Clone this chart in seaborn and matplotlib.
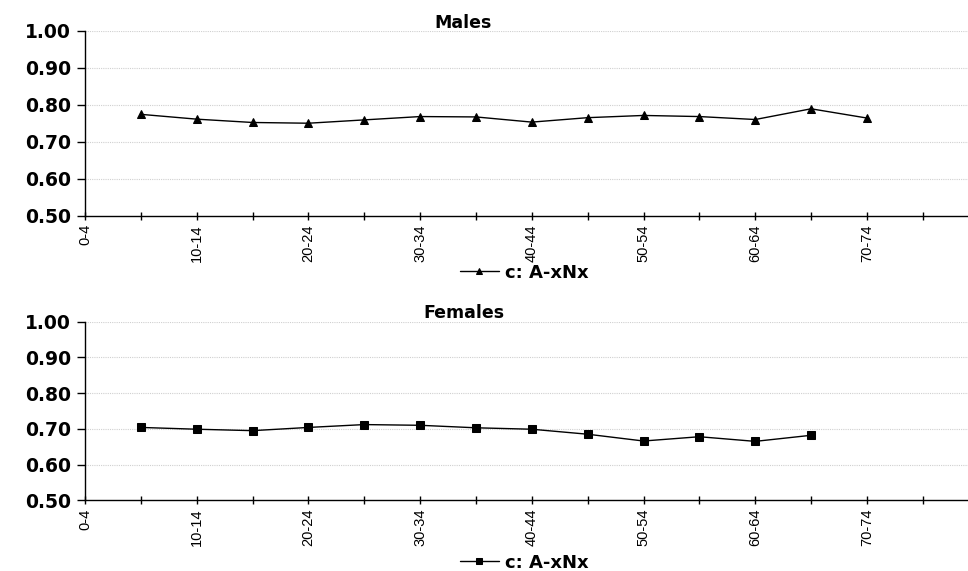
import seaborn as sns
import matplotlib.pyplot as plt
import matplotlib.ticker as mticker
import pandas as pd
import numpy as np

# age groups on the x axis (16 groups shown)
age_groups = ['0-4', '5-9', '10-14', '15-19', '20-24', '25-29', '30-34', '35-39',
              '40-44', '45-49', '50-54', '55-59', '60-64', '65-69', '70-74', '75-79']

# c: A-xNx ratios
males_ages = age_groups[1:15]
males_ratio = [0.774, 0.761, 0.752, 0.750, 0.759, 0.768, 0.767,
               0.753, 0.765, 0.771, 0.768, 0.760, 0.789, 0.764]

females_ages = age_groups[1:14]
females_ratio = [0.704, 0.699, 0.695, 0.704, 0.712, 0.710, 0.703,
                 0.699, 0.685, 0.666, 0.678, 0.665, 0.682]

series_label = 'c: A-xNx'

sns.set_theme(style='white')
plt.rcParams['font.family'] = ['DejaVu Sans']
plt.rcParams['text.color'] = 'black'
plt.rcParams['xtick.color'] = 'black'
plt.rcParams['ytick.color'] = 'black'

fig = plt.figure(figsize=(9.68, 5.71), dpi=100)
ax_m = fig.add_axes([0.0878, 0.6222, 0.9122, 0.324])
ax_f = fig.add_axes([0.0878, 0.1238, 0.9122, 0.3128])

panels = [
    (ax_m, males_ages, males_ratio, '^', 'Males', 1 - 22.5 / 571, 1 - 272.7 / 571),
    (ax_f, females_ages, females_ratio, 's', 'Females', 1 - 312.5 / 571, 1 - 562.7 / 571),
]

for ax, ages, vals, mk, title, ty, ly in panels:
    df = pd.DataFrame({'x': [age_groups.index(a) for a in ages], 'y': vals})
    sns.lineplot(data=df, x='x', y='y', ax=ax, color='black', linewidth=1,
                 marker=mk, markersize=5.5, markeredgecolor='black',
                 markerfacecolor='black', label=series_label)

    ax.set_xlim(0, 15.81)
    ax.set_ylim(0.5, 1.0)
    ax.set_xticks(range(len(age_groups)))
    ax.set_xticklabels([a if i % 2 == 0 else '' for i, a in enumerate(age_groups)],
                       rotation=90, fontsize=10.5, family='Liberation Sans')
    ax.set_yticks(np.arange(0.5, 1.01, 0.1))
    ax.yaxis.set_major_formatter(mticker.FormatStrFormatter('%.2f'))
    for t in ax.get_yticklabels():
        t.set_fontsize(13.5)
        t.set_fontweight('bold')
    ax.tick_params(axis='y', direction='out', length=6, width=1, color='black',
                   left=True, pad=4)
    ax.tick_params(axis='x', direction='inout', length=6, width=1, color='black',
                   bottom=True, pad=3)
    ax.set_xlabel('')
    ax.set_ylabel('')

    # dotted horizontal gridlines
    for g in [0.6, 0.7, 0.8, 0.9, 1.0]:
        ax.axhline(g, color='#d0d0d0', linestyle=(0, (1, 1)), linewidth=0.8, zorder=0)

    for s in ['top', 'right']:
        ax.spines[s].set_visible(False)
    for s in ['left', 'bottom']:
        ax.spines[s].set_color('black')
        ax.spines[s].set_linewidth(1)

    ax.get_legend().remove()
    fig.text(463.5 / 968, ty, title, ha='center', va='center',
             fontsize=12.5, fontweight='bold')

    handles, labels = ax.get_legend_handles_labels()
    fig.legend(handles, labels, loc='center', bbox_to_anchor=(524 / 968, ly),
               frameon=False, handlelength=2.2, handletextpad=0.3,
               prop={'weight': 'bold', 'size': 13}, borderaxespad=0,
               borderpad=0, markerscale=0.8)

plt.savefig('out.png', dpi=100)
